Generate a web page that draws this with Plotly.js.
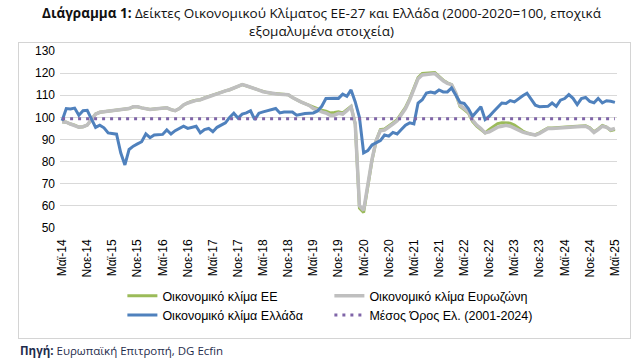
<!DOCTYPE html>
<html>
<head>
<meta charset="utf-8">
<script src="https://cdn.plot.ly/plotly-3.0.1.min.js"></script>
<style>
html,body{margin:0;padding:0;background:#fff;}
#wrap{position:relative;width:643px;height:363px;}
#frame{position:absolute;left:18px;top:42px;width:613px;height:297px;border:1px solid #d4d4d4;box-sizing:border-box;}
#chart{position:absolute;left:0;top:0;width:643px;height:363px;}
</style>
</head>
<body>
<div id="wrap"><div id="frame"></div><div id="chart"></div></div>
<script>
// Month labels (May 2014 – May 2025)
const monthNames = ['Ιαν','Φεβ','Μαρ','Απρ','Μαϊ','Ιουν','Ιουλ','Αυγ','Σεπ','Οκτ','Νοε','Δεκ'];
const startYear = 2014, startMonth = 4, nMonths = 133;
const categories = [];
for (let i = 0; i < nMonths; i++) {
  const mi = (startMonth + i) % 12;
  const yr = startYear + Math.floor((startMonth + i) / 12);
  categories.push(monthNames[mi] + '-' + String(yr).slice(2));
}
const tickLabels = categories.filter((c, i) => i % 6 === 0);

const greece = [
98.5, 104, 103.8, 104.2, 101, 103, 103.2, 99, 95.5, 96.5,
95.3, 93, 92.8, 92.4, 84, 78.5, 85.5, 87, 88, 89,
92.5, 90.8, 92, 92.2, 92.3, 94.3, 92.5, 94, 95, 96,
95, 95.5, 96, 93, 94.5, 95, 93.5, 95.5, 96.5, 97.5,
100, 101.9, 99.7, 101.5, 102, 103, 99, 101.9, 102.5, 103,
103.3, 104, 102, 102.4, 102.4, 102.4, 101, 101.5, 101.7, 101.9,
102, 102.9, 105, 108.5, 108.7, 108.7, 108.6, 110.5, 109.5, 112.4,
107, 100, 84, 85, 87.5, 88.6, 89.5, 92, 91.5, 93.2,
92.5, 94.5, 96.5, 97.5, 97, 106.5, 108, 111, 111.5, 111,
112.4, 111.5, 111.5, 113.3, 110, 106.8, 106.3, 104, 100.5, 102.5,
104.8, 99, 100.5, 102.5, 104.5, 106.5, 106.3, 107.6, 107, 108.5,
109.8, 110.9, 108, 105.5, 104.8, 105, 105, 106.5, 105, 107.8,
108.5, 110.3, 108.6, 105.8, 108.5, 109, 107.2, 106.6, 108.6, 106.5,
107.5, 107.3, 106.8
];

const eurozone = [
98, 97.8, 97, 96.5, 95.6, 95.8, 96.5, 99, 101.5, 102.3,
102.5, 102.8, 103.2, 103.3, 103.3, 103.5, 104, 104.8, 104.8, 104.3,
103.8, 103.6, 103.8, 104, 104.2, 104.3, 103.5, 103, 104, 105.6,
106.5, 107.3, 107.7, 108, 108.8, 109.5, 110, 110.6, 111.4, 112,
112.5, 113.4, 114, 114.8, 114.3, 113.5, 113, 112.3, 111.6, 111.2,
110.9, 110.7, 110.5, 110.5, 110.2, 109, 107.9, 107, 106.2, 105.4,
104, 103.5, 102.5, 102, 101, 101, 101.8, 101.5, 103, 104.8,
97, 60, 58, 70, 81, 89.5, 94, 94.3, 95.5, 97,
98.5, 101.3, 104, 108, 113, 117.5, 119.2, 119.4, 119.5, 119.8,
118.2, 116.5, 115.4, 114.8, 111, 105.5, 104, 102.5, 98.8, 96.5,
95, 93, 93.5, 94.5, 95.6, 96, 96.4, 96, 95, 94,
93.3, 92.8, 92.2, 92, 92.8, 94, 95, 95, 95.2, 95.3,
95.4, 95.5, 95.7, 95.8, 95.9, 96, 95, 93.2, 94.5, 96,
95.5, 94.4, 95
];

const eu27 = [
98, 97.8, 97, 96.5, 95.6, 95.8, 96.5, 99, 101.5, 102.3,
102.5, 102.8, 103.2, 103.3, 103.3, 103.5, 104, 104.8, 104.8, 104.3,
103.8, 103.6, 103.8, 104, 104.2, 104.3, 103.5, 103, 104, 105.6,
106.5, 107.3, 107.7, 108, 108.8, 109.5, 110, 110.6, 111.4, 112,
112.5, 113.4, 114, 114.8, 114.3, 113.5, 113, 112.3, 111.6, 111.2,
110.9, 110.7, 110.5, 110.5, 110.2, 109, 107.9, 107, 106.2, 105.4,
104.5, 104, 103.2, 102.8, 102, 102.2, 102.5, 102, 103.4, 105,
97, 59, 57, 69.5, 80.5, 89.5, 94.5, 94.8, 96, 97.5,
99, 101.8, 104.5, 108.5, 113.5, 118, 119.8, 120, 120.2, 120.3,
118.5, 116.8, 115.6, 114.8, 110.8, 105, 103.5, 102, 98.2, 96,
94.5, 93, 94.5, 96, 97.2, 97.6, 97.6, 97.4, 96.5, 95,
93.8, 93, 92.4, 92.2, 93, 94.2, 95.2, 95.2, 95.4, 95.5,
95.6, 95.7, 95.9, 96, 96, 96.2, 95.3, 93.5, 94.8, 96.3,
95.6, 94, 94.5
];

const greeceMean = 99.4; // Μέσος Όρος Ελ. (2001-2024)
const yTicks = [50, 60, 70, 80, 90, 100, 110, 120, 130];

const traces = [
  {x: categories, y: eu27, type: 'scatter', mode: 'lines', name: 'Οικονομικό κλίμα ΕΕ',
   line: {color: '#9bbb59', width: 3}},
  {x: categories, y: eurozone, type: 'scatter', mode: 'lines', name: 'Οικονομικό κλίμα Ευρωζώνη',
   line: {color: '#bfbfbf', width: 3.5}},
  {x: categories, y: greece, type: 'scatter', mode: 'lines', name: 'Οικονομικό κλίμα Ελλάδα',
   line: {color: '#4f81bd', width: 3}},
  {x: [categories[0], categories[categories.length - 1]], y: [greeceMean, greeceMean],
   type: 'scatter', mode: 'lines', name: 'Μέσος Όρος Ελ. (2001-2024)',
   line: {color: '#7f64a8', width: 3, dash: '3px,5px'}}
];

const layout = {
  width: 643, height: 363,
  margin: {l: 60, r: 26, t: 51, b: 135},
  paper_bgcolor: 'rgba(0,0,0,0)', plot_bgcolor: 'rgba(0,0,0,0)',
  font: {family: 'Liberation Sans, Arial, sans-serif', color: '#000', size: 12},
  title: {
    text: '<b>Διάγραμμα 1:</b> Δείκτες Οικονομικού Κλίματος ΕΕ-27 και Ελλάδα (2000-2020=100, εποχικά<br>εξομαλυμένα στοιχεία)',
    font: {family: 'Open Sans, sans-serif', size: 13.5, color: '#111'},
    x: 0.5, xanchor: 'center', y: 0.95, yanchor: 'top'
  },
  xaxis: {
    type: 'category',
    range: [-0.5, nMonths - 0.5],
    tickmode: 'array', tickvals: tickLabels, ticktext: tickLabels,
    tickangle: -90, showgrid: false, zeroline: false, showline: false,
    ticks: '', ticklen: 0, ticklabelstandoff: 8,
    tickfont: {family: 'Liberation Sans, Arial, sans-serif', size: 12, color: '#000'}
  },
  yaxis: {
    range: [50, 130], tickmode: 'array', tickvals: yTicks,
    showgrid: true, gridcolor: '#d9d9d9', gridwidth: 1, zeroline: false, showline: false,
    ticks: '', tickfont: {family: 'Liberation Sans, Arial, sans-serif', size: 12, color: '#000'},
    ticklabelstandoff: 4
  },
  showlegend: true,
  legend: {
    orientation: 'h', x: 0.112, xanchor: 'left', y: -0.30, yanchor: 'top',
    entrywidth: 162, entrywidthmode: 'pixels', traceorder: 'normal',
    font: {family: 'Liberation Sans, Arial, sans-serif', size: 12.5, color: '#000'},
    bgcolor: 'rgba(0,0,0,0)', tracegroupgap: 0
  },
  annotations: [{
    xref: 'paper', yref: 'paper', x: -0.0754, y: -0.69, xanchor: 'left', yanchor: 'middle',
    text: '<b>Πηγή:</b> Ευρωπαϊκή Επιτροπή, DG Ecfin', showarrow: false,
    font: {family: 'Open Sans, sans-serif', size: 11.5, color: '#1f2d4d'}
  }]
};

Plotly.newPlot('chart', traces, layout, {displayModeBar: false, staticPlot: true});
</script>
</body>
</html>
